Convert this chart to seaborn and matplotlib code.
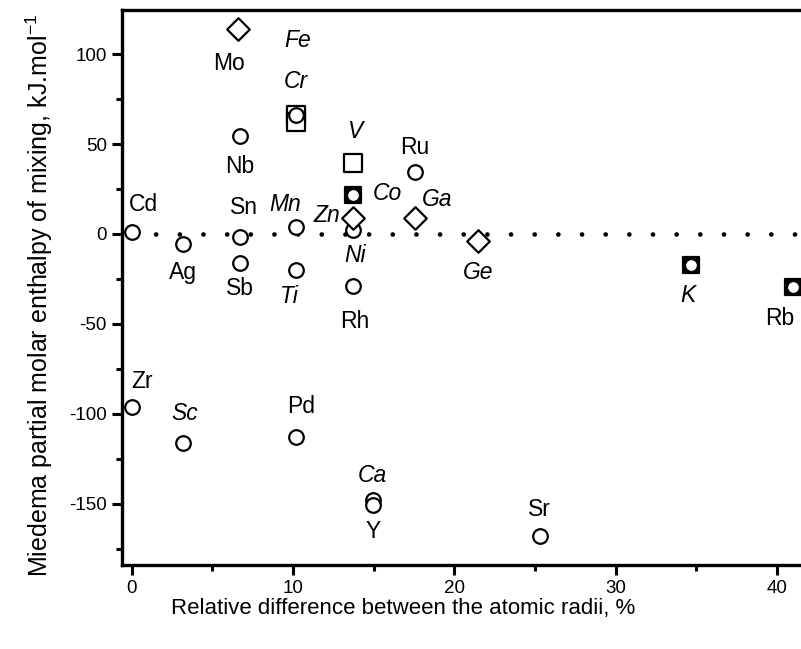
import matplotlib
matplotlib.use('Agg')
import matplotlib.pyplot as plt
import seaborn as sns
import pandas as pd

# ---- data ----
elements = ['Cd', 'Ag', 'Sn', 'Sb', 'Nb', 'Mo', 'Fe', 'Cr', 'Mn', 'Ti', 'V', 'Co', 'Zn',
            'Ni', 'Rh', 'Ru', 'Ga', 'Ge', 'K', 'Rb', 'Zr', 'Sc', 'Pd', 'Ca', 'Y', 'Sr']
radius_diff = [0.0, 3.2, 6.7, 6.7, 6.7, 6.6, 10.2, 10.2, 10.2, 10.2, 13.7, 13.7, 13.7,
               13.7, 13.7, 17.55, 17.55, 21.5, 34.7, 41.0, 0.0, 3.2, 10.2, 14.95, 14.95, 25.3]
enthalpy = [1, -5.5, -1.5, -16, 54.5, 114, 66, 62, 4, -20, 39.5, 21.5, 9,
            2, -29, 34.5, 9, -4, -17, -29.5, -96, -116, -113, -148, -150.5, -168]
marker_kind = ['circle', 'circle', 'circle', 'circle', 'circle', 'diamond', 'open_sq_circle',
               'open_square', 'circle', 'circle', 'open_square', 'filled_sq_circle', 'diamond',
               'circle', 'circle', 'circle', 'diamond', 'diamond', 'filled_sq_circle',
               'filled_sq_circle', 'circle', 'circle', 'circle', 'circle', 'circle', 'circle']
italic_elements = ['Fe', 'Cr', 'V', 'Co', 'Ga', 'Mn', 'Zn', 'Ni', 'Ti', 'Ge', 'K', 'Sc', 'Ca']

x_ticks = [0, 10, 20, 30, 40]
y_ticks = [-150, -100, -50, 0, 50, 100]
x_label = 'Relative difference between the atomic radii, %'
y_label = 'Miedema partial molar enthalpy of mixing, kJ.mol$^{-1}$'

# label offsets (pixels) relative to their points
label_offsets = {
    'Cd': (12, 28), 'Ag': (0, -29), 'Sn': (4, 29), 'Sb': (0, -26), 'Nb': (0, -31),
    'Mo': (-9, -35), 'Fe': (1, 75), 'Cr': (0, 41), 'Mn': (-11, 22), 'Ti': (-7, -27),
    'V': (2, 31), 'Co': (35, 2), 'Zn': (-26, 2), 'Ni': (2, -25), 'Rh': (2, -35),
    'Ru': (0, 24), 'Ga': (22, 18), 'Ge': (0, -31), 'K': (-3, -31), 'Rb': (-13, -31),
    'Zr': (10, 25), 'Sc': (1, 29), 'Pd': (5, 31), 'Ca': (0, 25), 'Y': (0, -27), 'Sr': (0, 27),
}

df = pd.DataFrame({'element': elements, 'x': radius_diff, 'y': enthalpy, 'kind': marker_kind})

sns.set_style('ticks')
plt.rcParams['font.family'] = ['Liberation Sans', 'DejaVu Sans']
plt.rcParams.update({
    'text.color': 'black', 'axes.labelcolor': 'black', 'xtick.color': 'black',
    'ytick.color': 'black', 'axes.edgecolor': 'black', 'axes.unicode_minus': False,
    'mathtext.fontset': 'custom', 'mathtext.rm': 'Liberation Sans',
    'mathtext.it': 'Liberation Sans:italic', 'mathtext.default': 'regular',
})

fig = plt.figure(figsize=(8.01, 6.49), dpi=100)
ax = fig.add_axes([122 / 801, 1 - 565 / 649, 1 - 122 / 801, (565 - 10) / 649])

# zero reference line (dotted)
ax.axhline(0, xmin=0.6 / 42.1, color='black', lw=3.4, linestyle=(0, (0.01, 5.0)),
           dash_capstyle='round', zorder=1)

common = dict(ax=ax, x='x', y='y', legend=False, clip_on=False)
sq = df[df.kind.isin(['open_square', 'open_sq_circle'])]
sns.scatterplot(data=sq, marker='s', s=12.5 ** 2, color='white', edgecolor='black',
                linewidth=1.6, zorder=3, **common)
fsq = df[df.kind == 'filled_sq_circle']
sns.scatterplot(data=fsq, marker='s', s=11.5 ** 2, color='black', edgecolor='black',
                linewidth=1.6, zorder=3, **common)
circ = df[df.kind.isin(['circle', 'open_sq_circle'])]
sns.scatterplot(data=circ, marker='o', s=10.5 ** 2, color='white', edgecolor='black',
                linewidth=1.6, zorder=4, **common)
sns.scatterplot(data=fsq, marker='o', s=8.5 ** 2, color='white', edgecolor='black',
                linewidth=0.8, zorder=4, **common)
dia = df[df.kind == 'diamond']
sns.scatterplot(data=dia, marker='D', s=11.5 ** 2, color='white', edgecolor='black',
                linewidth=1.6, zorder=5, **common)

for el, xv, yv in zip(elements, radius_diff, enthalpy):
    dx, dy = label_offsets[el]
    ax.annotate(el, (xv, yv), xytext=(dx, dy), textcoords='offset pixels',
                ha='center', va='center', fontsize=16.5,
                style='italic' if el in italic_elements else 'normal', zorder=6)

ax.set_xlim(-0.6, 41.5)
ax.set_ylim(-184, 124.5)
ax.set_xticks(x_ticks)
ax.set_yticks(y_ticks)
ax.set_xticks([5, 15, 25, 35], minor=True)
ax.set_yticks([-175, -125, -75, -25, 25, 75], minor=True)
ax.tick_params(which='major', direction='out', length=7, width=2.2, labelsize=13.5,
               colors='black')
ax.tick_params(which='minor', direction='out', length=4, width=2.2)
ax.tick_params(axis='y', which='major', pad=4)
ax.tick_params(axis='x', which='major', pad=4)

for side in ['left', 'bottom', 'top']:
    ax.spines[side].set_linewidth(2.4)
    ax.spines[side].set_color('black')
ax.spines['right'].set_visible(False)

ax.set_xlabel(x_label, fontsize=16)
ax.set_ylabel(y_label, fontsize=18)
ax.xaxis.set_label_coords(0.4138, -0.06)
ax.xaxis.label.set_va('top')
ax.yaxis.set_label_coords(-0.098, 0.4865)

fig.savefig('out.png', dpi=100)
